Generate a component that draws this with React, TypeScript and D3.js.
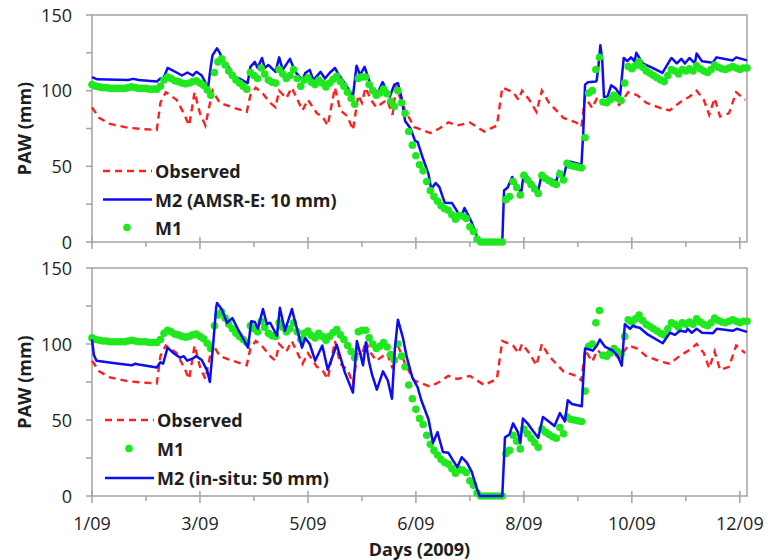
import React from "react";
import * as d3 from "d3";

type Pt = [number, number];

// ---------- DATA (day of 2009 from Jan 1, value in mm) ----------
const majorTickDays = [0, 60, 120, 180, 240, 300, 360];
const minorTickDays = [30, 90, 150, 210, 270, 330];
const yTickValues = [0, 50, 100, 150];
const yMinorTickValues = [25, 75, 125];

const observedPoints: Pt[] = [
  [0, 89], [4, 82], [10, 78], [20, 75.5], [30, 74.5], [36, 74], [38, 92], [41, 99], [47, 94], [51, 85],
  [54, 77], [57, 99], [60, 85], [63, 77], [67, 100], [71, 92], [78, 89], [86, 86], [88, 97], [91, 102],
  [95, 98], [99, 92], [102, 89], [104, 100], [108, 95], [111, 102], [117, 87], [120, 94], [125, 85], [128, 83],
  [131, 77], [135, 102], [138, 87], [142, 83], [145, 74], [148, 97], [150, 92], [152, 102], [155, 94], [158, 89],
  [164, 94], [167, 84], [169, 102], [174, 87], [179, 76], [188, 72], [193, 75], [198, 79], [203, 77], [210, 79],
  [218, 73], [225, 77], [228, 102], [234, 99], [237, 94], [239, 100], [243, 94], [247, 86], [250, 100], [254, 92],
  [262, 82], [269, 79], [272, 76], [274, 96], [278, 88.5], [281, 96], [284, 92], [288, 96], [293, 90.5], [298, 99],
  [303, 97], [308, 92], [316, 88.5], [321, 87], [327, 92.5], [332, 96], [336, 100], [340, 94], [343, 84], [346, 95],
  [349, 83], [354, 85], [358, 99], [363, 94],
];

const m1Points: Pt[] = [
  [0, 104], [2, 103], [4, 102.5], [6, 102], [8, 102], [10, 101.5], [12, 101.5], [14, 101.5], [16, 101.5], [18, 101.5],
  [20, 102], [22, 102.5], [24, 102], [26, 101.5], [28, 101.5], [30, 101.5], [32, 101], [34, 101], [36, 101],
  [38, 103], [40, 107], [42, 109], [44, 108], [46, 106.5], [48, 106], [50, 105], [52, 104.5], [54, 105], [56, 106],
  [58, 106.5], [60, 105], [62, 103.5], [64, 100.5], [66, 97], [68, 112], [70, 119], [72, 121], [74, 117], [76, 113],
  [78, 110], [80, 107], [82, 105], [84, 103], [86, 101], [88, 112],
  [90, 110], [92, 108], [94, 115], [96, 111], [98, 107], [100, 105.5], [102, 105], [104, 114], [106, 111], [108, 108],
  [110, 110], [112, 114], [114, 108], [116, 103], [118, 107], [120, 108.5], [122, 105.5], [124, 104], [126, 107],
  [128, 105], [130, 102.5], [132, 105], [134, 107.5], [136, 109.5], [138, 106], [140, 103], [142, 99], [144, 95],
  [146, 91], [148, 108], [150, 109], [152, 109], [154, 104], [156, 100], [158, 97], [160, 98.5], [162, 101], [164, 98],
  [166, 93], [168, 89.5], [170, 100], [172, 92], [174, 85], [176, 73],
  [178, 64], [180, 57], [182, 51], [184, 47], [186, 40], [188, 34], [190, 30], [192, 27], [194, 24], [196, 22],
  [198, 21], [200, 18], [202, 15], [204, 17.5], [206, 17], [208, 15.5], [210, 10], [212, 7], [214, 2], [216, 0],
  [218, 0], [220, 0], [222, 0], [224, 0], [226, 0], [228, 0],
  [230, 28], [232, 30], [234, 40], [236, 36], [238, 31], [240, 44], [242, 41], [244, 38], [246, 35], [248, 32],
  [250, 44], [252, 42], [254, 40.5], [256, 39], [258, 38], [260, 45], [262, 41], [264, 52], [266, 50.5], [268, 50],
  [270, 49.5], [272, 49], [274, 69], [276, 98.5], [278, 100], [280, 114], [282, 122], [284, 92.5], [286, 92], [288, 94],
  [290, 97], [292, 95], [294, 93.5], [296, 105], [298, 116], [300, 114.5], [302, 116.5], [304, 119], [306, 115.5],
  [308, 113], [310, 111.5], [312, 110], [314, 108.5], [316, 107], [318, 106], [320, 110], [322, 114], [324, 113],
  [326, 111], [328, 114], [330, 113], [332, 114.5], [334, 113], [336, 116.5], [338, 114.5], [340, 113], [342, 112],
  [344, 114], [346, 117], [348, 115.5], [350, 114.5], [352, 114], [354, 115], [356, 116], [358, 115], [360, 114],
  [362, 115], [364, 115],
];

const m2AmsrPoints: Pt[] = [
  [0, 109], [3, 107.5], [20, 107], [23, 107.8], [26, 107], [36, 106], [38, 108], [39.5, 107.5], [42, 115], [47, 112],
  [50, 110], [53, 112], [56, 110], [58, 112.5], [61, 110], [64.5, 102], [66, 116], [67, 123.5], [69.5, 128], [71, 125],
  [73, 119], [77, 114], [78, 109.5], [82, 108], [86.5, 105], [88, 115.7], [90.5, 119], [92, 115], [94.5, 121.6],
  [96, 115], [98, 117], [102, 112.4], [104, 122], [106, 113.7], [110, 121], [113, 112.4], [117, 107], [118.5, 111.7],
  [121, 113.7], [123, 107], [127, 112.4], [129.5, 108], [132, 111.7], [135, 115], [136.5, 111.7], [141, 104],
  [145, 96], [147, 116.5], [149, 110.4], [151.5, 115.7], [153.5, 108.4], [156, 100.5], [159, 99], [161.5, 105.7],
  [163.5, 100.5], [165.5, 96], [168, 104], [170, 105], [172, 95.5], [174, 80], [177, 75], [179.5, 67], [181, 66],
  [184, 55], [187, 45], [188.5, 35], [191, 39], [193, 36.4], [196, 26], [200, 25.8], [202, 22], [205, 16], [207, 22.5],
  [208.5, 19], [211, 13], [213, 6.6], [215, 0], [228, 0], [229, 34], [231, 36], [233.5, 43], [236, 37], [238.5, 32.5],
  [240, 45.6], [242, 43], [244, 39.7], [248, 34], [250, 45], [253, 42.3], [258, 40], [259.5, 47], [262, 42.5],
  [264, 52.5], [266, 53], [272, 51], [273, 72], [274, 104], [275.5, 105.5], [280, 106], [280.5, 107], [281.5, 117],
  [282.5, 130], [283.5, 121], [284.5, 96], [286.5, 96], [288.5, 103.5], [291, 101.5], [293.5, 97], [295.5, 121.6],
  [297.5, 119.5], [299.5, 122], [301.5, 119.5], [302.5, 125], [306, 118], [311.5, 115], [317, 111.7], [322, 121.6],
  [325, 118], [327.5, 121], [329.5, 118], [332, 121.6], [335, 118], [336, 124.5], [339, 119.5], [345, 118.5],
  [347, 122], [356, 120], [358, 122], [364, 120],
];

const m2InsituPoints: Pt[] = [
  [0, 103], [1, 93], [2.5, 89], [15, 87], [22, 86], [24, 87], [26, 86.5], [36, 84.5], [38, 88], [39.5, 87],
  [42, 97.6], [45, 94.3], [49, 91], [51, 92], [53, 89], [56, 90.5], [58, 92], [61, 89.5], [64, 82.5], [65.5, 75],
  [67, 95], [69, 124], [69.5, 127], [72, 123], [75, 114], [78, 117], [81, 110], [86.7, 97.6], [88.5, 115],
  [90.5, 114.5], [92.2, 110], [95, 123], [97.2, 113], [99, 114], [102.8, 105.4], [104.4, 123.8], [107.2, 108.7],
  [111.1, 123], [112.8, 115], [116.7, 97.6], [118.5, 104], [121, 100], [124, 89], [128, 99], [131, 83], [136, 99.5],
  [140.6, 81], [145, 68], [147.2, 102], [149, 94], [150.6, 86], [152.2, 101], [154, 88], [155.6, 80], [158.3, 70],
  [161.7, 82], [164.4, 76], [166.7, 64], [168.3, 97], [170, 116], [172.8, 104], [175, 91], [178, 78], [181, 71.4],
  [183, 63], [187, 50.5], [189.5, 35], [192, 42], [195, 29], [198, 28.5], [200.5, 23.6], [203, 19], [205.5, 25.5],
  [208.3, 22], [211, 16], [214, 4.5], [215.5, 0], [228, 0], [229.5, 38.6], [232, 40.5], [234, 47.8], [236.7, 42],
  [238, 34.7], [239.5, 51], [242, 47.8], [245, 43], [248, 38.3], [250.6, 52], [254.4, 48.5], [257, 46], [260, 54.5],
  [262.8, 49], [264.4, 63], [266.7, 60.5], [272.2, 59], [273, 77], [274, 97], [276, 96.5], [278.3, 95.6], [280.6, 99],
  [282.2, 103], [285, 98.3], [289.4, 95.6], [292.2, 92], [294.4, 85.8], [296.1, 113], [299, 110], [300.6, 112],
  [302.8, 111], [304.4, 110.7], [308.3, 106.7], [317.2, 100.5], [321.1, 107.4], [324, 106], [326.7, 108.7],
  [330, 108], [331, 110], [333.3, 107.4], [336, 110], [339, 107.4], [345, 107], [347.2, 110], [356, 108.7],
  [358.3, 110], [364, 108],
];

// ---------- STYLE ----------
const RED = "#ff1f1f";
const BLUE = "#0c0cf5";
const GREEN = "#1fe81f";
const FRAME = "#a3a3a3";
const TEXT = "#1e1e1e";
const FONT = "'Open Sans', 'DejaVu Sans', sans-serif";

const START = new Date(2009, 0, 1);
const dayToDate = (d: number) => new Date(START.getTime() + d * 86400000);
const fmt = d3.timeFormat("%-m/%y");

const x = d3.scaleTime().domain([dayToDate(0), dayToDate(364)]).range([92, 747]);

type LegendItem = { kind: "dash" | "line" | "dot"; label: string; y: number };

function Panel(props: {
  y0: number;
  y1: number;
  blue: Pt[];
  blueOnTop: boolean;
  legend: LegendItem[];
  legendX: number;
  showXLabels: boolean;
}) {
  const { y0, y1, blue, blueOnTop, legend, legendX, showXLabels } = props;
  const y = d3.scaleLinear().domain([0, 150]).range([y0, y1]);
  const line = d3
    .line<Pt>()
    .x((d) => x(dayToDate(d[0])))
    .y((d) => y(d[1]));

  const obsPath = (
    <path
      d={line(observedPoints) || ""}
      fill="none"
      stroke={RED}
      strokeWidth={2.4}
      strokeDasharray="7 5"
    />
  );
  const bluePath = (
    <path
      d={line(blue) || ""}
      fill="none"
      stroke={BLUE}
      strokeWidth={2.5}
      strokeLinejoin="round"
    />
  );
  const dots = (
    <g fill={GREEN}>
      {m1Points.map((p, i) => (
        <circle key={i} cx={x(dayToDate(p[0]))} cy={y(p[1])} r={3.8} />
      ))}
    </g>
  );

  const xLeft = x.range()[0];
  const xRight = x.range()[1];

  return (
    <g>
      <rect
        x={xLeft}
        y={y1}
        width={xRight - xLeft}
        height={y0 - y1}
        fill="none"
        stroke={FRAME}
        strokeWidth={1.5}
      />
      {[...yTickValues, ...yMinorTickValues].map((v) => (
        <line key={"yt" + v} x1={xLeft - 6} x2={xLeft} y1={y(v)} y2={y(v)} stroke={FRAME} strokeWidth={1.5} />
      ))}
      {yTickValues.map((v) => (
        <text
          key={"yl" + v}
          x={72}
          y={y(v) + 6.5}
          textAnchor="end"
          fontSize={18}
          fontFamily={FONT}
          fill={TEXT}
        >
          {v}
        </text>
      ))}
      {majorTickDays.map((d) => (
        <line
          key={"xt" + d}
          x1={x(dayToDate(d))}
          x2={x(dayToDate(d))}
          y1={y0 - 5}
          y2={y0 + 7}
          stroke={FRAME}
          strokeWidth={1.5}
        />
      ))}
      {minorTickDays.map((d) => (
        <line
          key={"xm" + d}
          x1={x(dayToDate(d))}
          x2={x(dayToDate(d))}
          y1={y0}
          y2={y0 + 5}
          stroke={FRAME}
          strokeWidth={1.5}
        />
      ))}
      {showXLabels &&
        majorTickDays.map((d) => (
          <text
            key={"xl" + d}
            x={x(dayToDate(d))}
            y={y0 + 34}
            textAnchor="middle"
            fontSize={18}
            fontFamily={FONT}
            fill={TEXT}
          >
            {fmt(dayToDate(d))}
          </text>
        ))}
      <text
        transform={`translate(31,${(y0 + y1) / 2}) rotate(-90)`}
        textAnchor="middle"
        fontSize={18}
        fontWeight="bold"
        fontFamily={FONT}
        fill={TEXT}
      >
        PAW (mm)
      </text>
      {obsPath}
      {blueOnTop ? dots : bluePath}
      {blueOnTop ? bluePath : dots}
      {legend.map((it) => (
        <g key={it.label}>
          {it.kind === "dash" && (
            <line
              x1={legendX - 52}
              x2={legendX - 3}
              y1={it.y}
              y2={it.y}
              stroke={RED}
              strokeWidth={2.4}
              strokeDasharray="7 5"
            />
          )}
          {it.kind === "line" && (
            <line x1={legendX - 52} x2={legendX - 3} y1={it.y} y2={it.y} stroke={BLUE} strokeWidth={2.5} />
          )}
          {it.kind === "dot" && <circle cx={legendX - 28} cy={it.y} r={3.8} fill={GREEN} />}
          <text
            x={legendX}
            y={it.y + 7}
            fontSize={18}
            fontWeight="bold"
            fontFamily={FONT}
            fill={TEXT}
          >
            {it.label}
          </text>
        </g>
      ))}
    </g>
  );
}

export default function App() {
  return (
    <svg
      width={768}
      height={560}
      viewBox="0 0 768 560"
      style={{ position: "absolute", left: 0, top: 0, background: "#fff" }}
    >
      <rect x={0} y={0} width={768} height={560} fill="#fff" />
      <Panel
        y0={242}
        y1={15}
        blue={m2AmsrPoints}
        blueOnTop={false}
        legendX={155}
        showXLabels={false}
        legend={[
          { kind: "dash", label: "Observed", y: 171 },
          { kind: "line", label: "M2 (AMSR-E: 10 mm)", y: 199.5 },
          { kind: "dot", label: "M1", y: 227.5 },
        ]}
      />
      <Panel
        y0={496}
        y1={268}
        blue={m2InsituPoints}
        blueOnTop={true}
        legendX={157}
        showXLabels={true}
        legend={[
          { kind: "dash", label: "Observed", y: 420 },
          { kind: "dot", label: "M1", y: 448.5 },
          { kind: "line", label: "M2 (in-situ: 50 mm)", y: 478 },
        ]}
      />
      <text
        x={419.5}
        y={556}
        textAnchor="middle"
        fontSize={18}
        fontWeight="bold"
        fontFamily={FONT}
        fill={TEXT}
      >
        Days (2009)
      </text>
    </svg>
  );
}
